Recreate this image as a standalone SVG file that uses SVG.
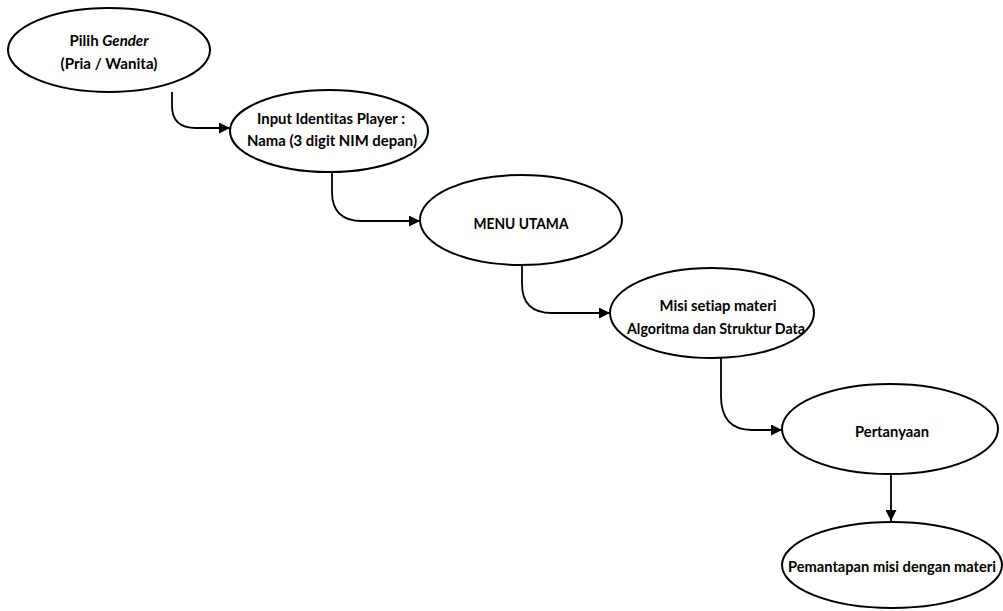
<svg xmlns="http://www.w3.org/2000/svg" width="1003" height="611" viewBox="0 0 1003 611">
<style>
.n{fill:#fff;stroke:#000;stroke-width:2}
.t{font-family:Lato,"Liberation Sans",sans-serif;font-weight:bold;font-size:16px;fill:#000;text-anchor:middle;font-variant-ligatures:none}
.c{fill:none;stroke:#000;stroke-width:1.8}
</style>
<defs>
<marker id="ah" viewBox="0 0 10 10" refX="10" refY="5" markerWidth="11" markerHeight="11" markerUnits="userSpaceOnUse" orient="auto">
<path d="M0,0 L10,5 L0,10 Z" fill="#000"/>
</marker>
</defs>
<rect width="1003" height="611" fill="#fff"/>
<g id="connectors">
<path class="c" d="M172,92 L172,106 Q172,128 196,128 L230,128" marker-end="url(#ah)"/>
<path class="c" d="M332,172 L332,192 Q332,221 362,221 L420,221" marker-end="url(#ah)"/>
<path class="c" d="M522,266 L522,284 Q522,313 552,313 L610,313" marker-end="url(#ah)"/>
<path class="c" d="M721,358 L721,396 Q721,430 752,430 L782,430" marker-end="url(#ah)"/>
<path class="c" d="M891,473 L891,521" marker-end="url(#ah)"/>
</g>
<g id="n1">
<ellipse class="n" cx="109" cy="50" rx="101" ry="42"/>
<text class="t" x="109" y="46" textLength="79" lengthAdjust="spacingAndGlyphs">Pilih <tspan font-style="italic">Gender</tspan></text>
<text class="t" x="109" y="69" textLength="97" lengthAdjust="spacingAndGlyphs">(Pria / Wanita)</text>
</g>
<g id="n2">
<ellipse class="n" cx="329" cy="131" rx="99" ry="41"/>
<text class="t" x="331" y="124" textLength="148" lengthAdjust="spacingAndGlyphs">Input Identitas Player :</text>
<text class="t" x="332" y="146" textLength="170" lengthAdjust="spacingAndGlyphs">Nama (3 digit NIM depan)</text>
</g>
<g id="n3">
<ellipse class="n" cx="521" cy="220" rx="101" ry="45"/>
<text class="t" x="521" y="229" textLength="95" lengthAdjust="spacingAndGlyphs">MENU UTAMA</text>
</g>
<g id="n4">
<ellipse class="n" cx="712" cy="313" rx="102" ry="45"/>
<text class="t" x="718" y="311" textLength="117" lengthAdjust="spacingAndGlyphs">Misi setiap materi</text>
<text class="t" x="716" y="334" textLength="178" lengthAdjust="spacingAndGlyphs">Algoritma dan Struktur Data</text>
</g>
<g id="n5">
<ellipse class="n" cx="890" cy="429" rx="108" ry="45"/>
<text class="t" x="892" y="437" textLength="74" lengthAdjust="spacingAndGlyphs">Pertanyaan</text>
</g>
<g id="n6">
<ellipse class="n" cx="892" cy="565" rx="110" ry="43"/>
<text class="t" x="892" y="572" textLength="208" lengthAdjust="spacingAndGlyphs">Pemantapan misi dengan materi</text>
</g>
</svg>
